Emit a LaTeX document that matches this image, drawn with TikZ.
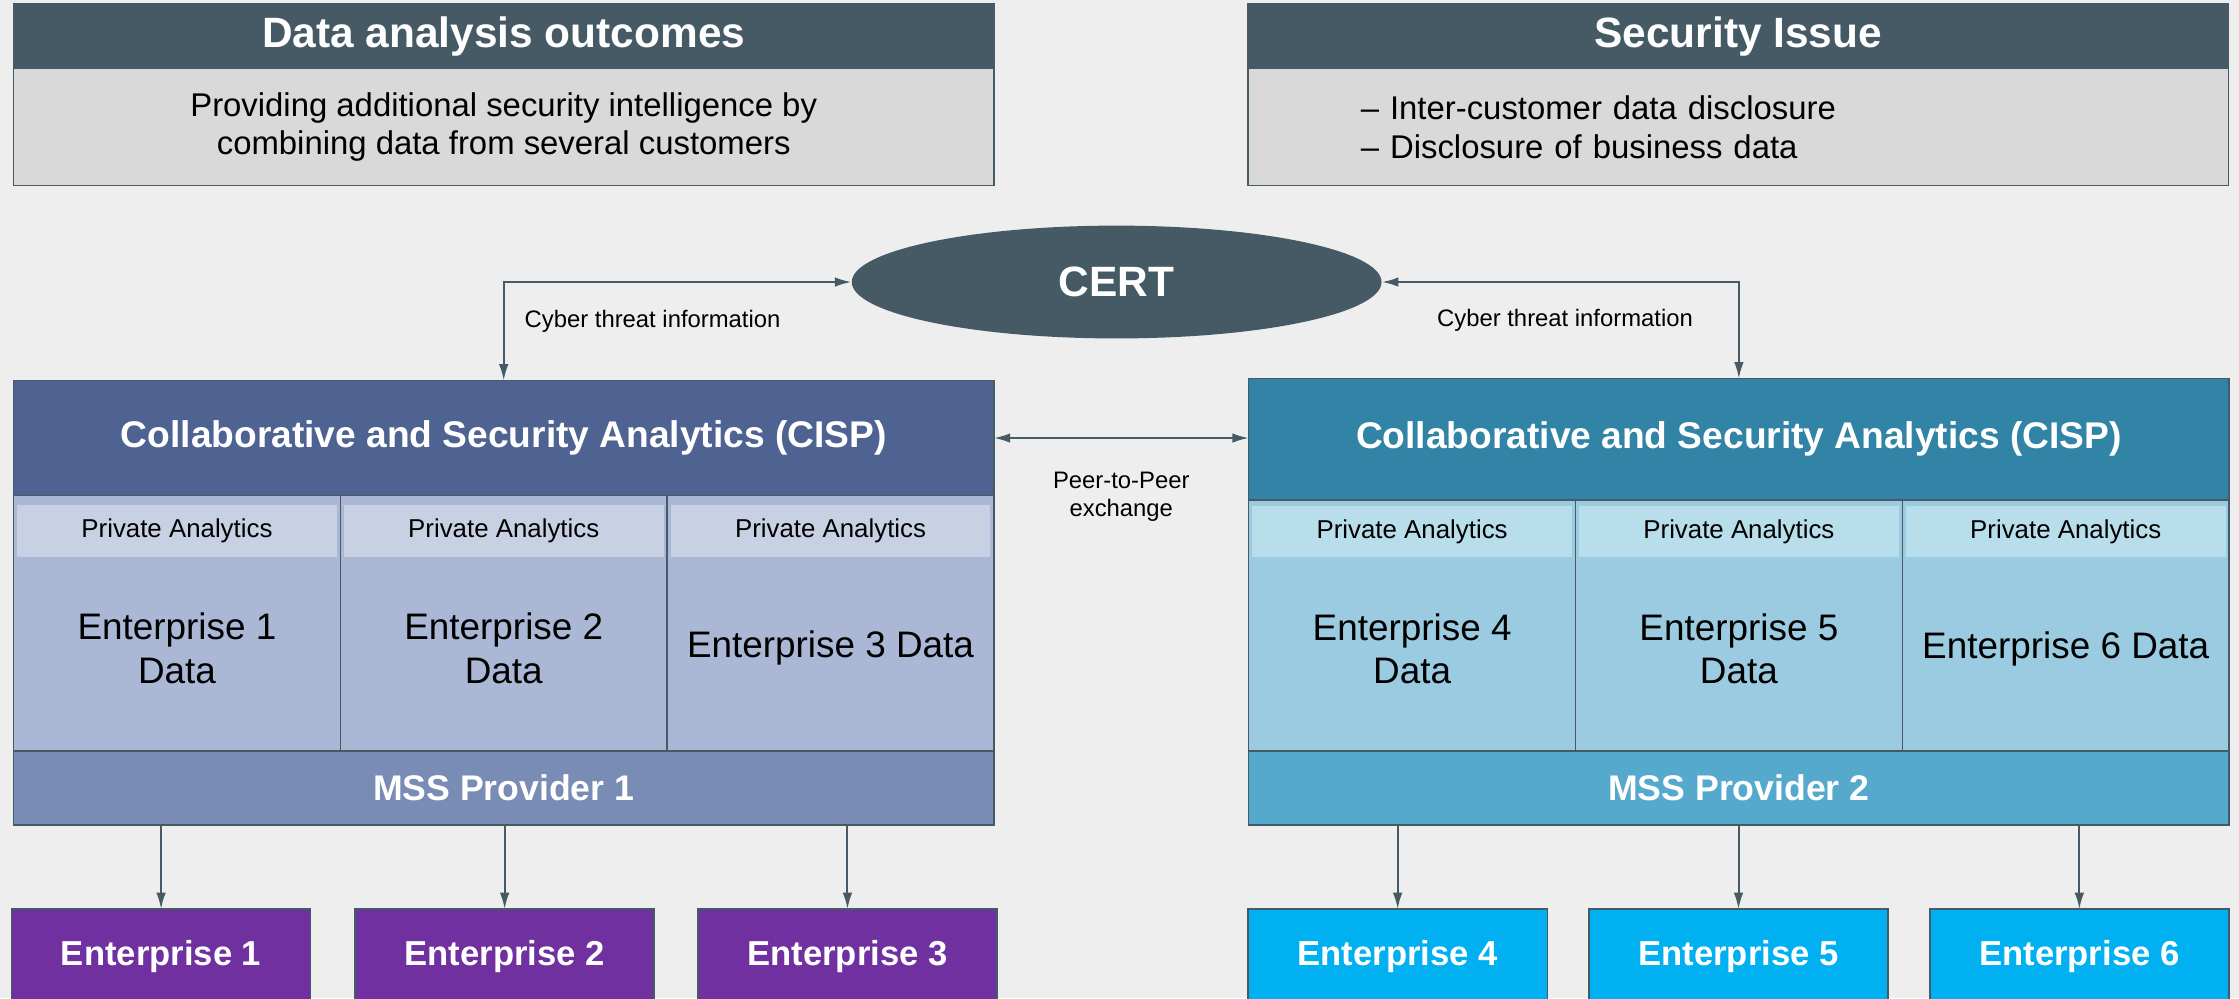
\documentclass[tikz,border=0pt]{standalone}
\usepackage{fontspec}
\setmainfont{Liberation Sans}
\usetikzlibrary{shapes.geometric,positioning,calc,arrows.meta}

\definecolor{slate}{HTML}{455A64}
\definecolor{paper}{HTML}{EEEEEE}
\definecolor{boxgray}{HTML}{D9D9D9}
\definecolor{navyhead}{HTML}{4F6393}
\definecolor{navycell}{HTML}{AAB8D5}
\definecolor{navyband}{HTML}{C8D0E3}
\definecolor{navymss}{HTML}{788CB6}
\definecolor{entpurple}{HTML}{7030A0}
\definecolor{tealhead}{HTML}{3184A6}
\definecolor{tealcell}{HTML}{9ACBE0}
\definecolor{tealband}{HTML}{B8DDEB}
\definecolor{tealmss}{HTML}{55A9CD}
\definecolor{entcyan}{HTML}{00B0F0}

\begin{document}
\begin{tikzpicture}[x=0.2mm, y=-0.2mm, >={Latex[length=6.5pt,width=3.8pt]},
    panel/.style={draw=slate, line width=0.6pt, rectangle, inner sep=0pt, outer sep=0pt},
    headbar/.style={panel, fill=slate, text=white, font=\fontsize{16.9}{20}\selectfont\bfseries, minimum width=137.3mm, minimum height=9.1mm, anchor=north west},
    infobody/.style={panel, fill=boxgray, font=\fontsize{13.1}{15.4}\selectfont, minimum width=137.3mm, minimum height=16.4mm, anchor=north, align=center},
    cisphead/.style={panel, text=white, font=\fontsize{14.8}{17}\selectfont\bfseries, minimum width=137.3mm, anchor=north west},
    datacell/.style={panel, minimum width=45.77mm, anchor=north west},
    pband/.style={rectangle, inner sep=0pt, minimum width=44.8mm, minimum height=7.2mm, font=\fontsize{10.3}{12}\selectfont},
    dtext/.style={inner sep=0pt, align=center, font=\fontsize{14.7}{17.2}\selectfont},
    mssbar/.style={panel, text=white, font=\fontsize{14.2}{17}\selectfont\bfseries, minimum width=137.3mm, minimum height=10.34mm, anchor=north west},
    entbox/.style={panel, text=white, font=\fontsize{13.8}{16}\selectfont\bfseries, minimum width=41.9mm, minimum height=13.3mm, anchor=north},
    conn/.style={draw=slate, line width=0.8pt},
    lbl/.style={inner sep=0pt, font=\fontsize{9.5}{11.1}\selectfont}
]
    % Canvas
    \useasboundingbox (0,0) rectangle (1568,699);
    \fill[paper] (0,0) rectangle (1568,699);

    % Top boxes
    \node[headbar] (outT) at (9.5,2.5) {Data analysis outcomes};
    \node[infobody] (outB) at (outT.south) {Providing additional security intelligence by\\combining data from several customers};
    \node[headbar] (issT) at (874,2.5) {Security Issue};
    \node[infobody, align=left, text width=105.7mm, inner xsep=15.8mm] (issB) at (issT.south) {– Inter-customer data disclosure\\– Disclosure of business data};

    % CERT
    \node[ellipse, fill=slate, inner sep=0pt, minimum width=74.2mm, minimum height=15.8mm, text=white, font=\fontsize{16.9}{20}\selectfont\bfseries] (cert) at (782,197.5) {CERT};

    % Left CISP
    \node[cisphead, fill=navyhead, minimum height=16.1mm] (cisp1) at (9.5,266.5) {Collaborative and Security Analytics (CISP)};
    \node[datacell, fill=navycell, minimum height=35.8mm] (c1) at (cisp1.south west) {};
    \node[datacell, fill=navycell, minimum height=35.8mm] (c2) at (c1.north east) {};
    \node[datacell, fill=navycell, minimum height=35.8mm] (c3) at (c2.north east) {};
    \node[pband, fill=navyband, below=1.3mm of c1.north] (b1) {Private Analytics};
    \node[pband, fill=navyband, below=1.3mm of c2.north] (b2) {Private Analytics};
    \node[pband, fill=navyband, below=1.3mm of c3.north] (b3) {Private Analytics};
    \node[dtext] (d1) at ($(b1.south)!0.47!(c1.south)$) {Enterprise 1\\Data};
    \node[dtext] (d2) at ($(b2.south)!0.47!(c2.south)$) {Enterprise 2\\Data};
    \node[dtext] (d3) at ($(b3.south)!0.47!(c3.south)$) {Enterprise 3 Data};
    \node[mssbar, fill=navymss] (mss1) at (c1.south west) {MSS Provider 1};

    % Right CISP
    \node[cisphead, fill=tealhead, minimum height=17mm] (cisp2) at (874.5,265) {Collaborative and Security Analytics (CISP)};
    \node[datacell, fill=tealcell, minimum height=35.2mm] (c4) at (cisp2.south west) {};
    \node[datacell, fill=tealcell, minimum height=35.2mm] (c5) at (c4.north east) {};
    \node[datacell, fill=tealcell, minimum height=35.2mm] (c6) at (c5.north east) {};
    \node[pband, fill=tealband, below=0.8mm of c4.north] (b4) {Private Analytics};
    \node[pband, fill=tealband, below=0.8mm of c5.north] (b5) {Private Analytics};
    \node[pband, fill=tealband, below=0.8mm of c6.north] (b6) {Private Analytics};
    \node[dtext] (d4) at ($(b4.south)!0.47!(c4.south)$) {Enterprise 4\\Data};
    \node[dtext] (d5) at ($(b5.south)!0.47!(c5.south)$) {Enterprise 5\\Data};
    \node[dtext] (d6) at ($(b6.south)!0.47!(c6.south)$) {Enterprise 6 Data};
    \node[mssbar, fill=tealmss] (mss2) at (c4.south west) {MSS Provider 2};

    % Enterprises
    \node[entbox, fill=entpurple] (e1) at (112.8,636.6) {Enterprise 1};
    \node[entbox, fill=entpurple] (e2) at (353.4,636.6) {Enterprise 2};
    \node[entbox, fill=entpurple] (e3) at (593.5,636.6) {Enterprise 3};
    \node[entbox, fill=entcyan] (e4) at (978.8,636.6) {Enterprise 4};
    \node[entbox, fill=entcyan] (e5) at (1217.5,636.6) {Enterprise 5};
    \node[entbox, fill=entcyan] (e6) at (1456.2,636.6) {Enterprise 6};

    % Connectors
    \draw[conn, <->] (cisp1.north) |- (cert.west) node[lbl, pos=0.3, anchor=west, xshift=2.8mm] {Cyber threat information};
    \draw[conn, <->] (cisp2.north) |- (cert.east) node[lbl, pos=0.3, anchor=east, xshift=-6.3mm] {Cyber threat information};
    \draw[conn, <->] (cisp1.east) -- (cisp1.east -| cisp2.west) node[lbl, midway, below=4.6mm, align=center] {Peer-to-Peer\\exchange};
    \draw[conn, ->] (mss1.south -| e1.north) -- (e1.north);
    \draw[conn, ->] (mss1.south -| e2.north) -- (e2.north);
    \draw[conn, ->] (mss1.south -| e3.north) -- (e3.north);
    \draw[conn, ->] (mss2.south -| e4.north) -- (e4.north);
    \draw[conn, ->] (mss2.south -| e5.north) -- (e5.north);
    \draw[conn, ->] (mss2.south -| e6.north) -- (e6.north);
\end{tikzpicture}
\end{document}
